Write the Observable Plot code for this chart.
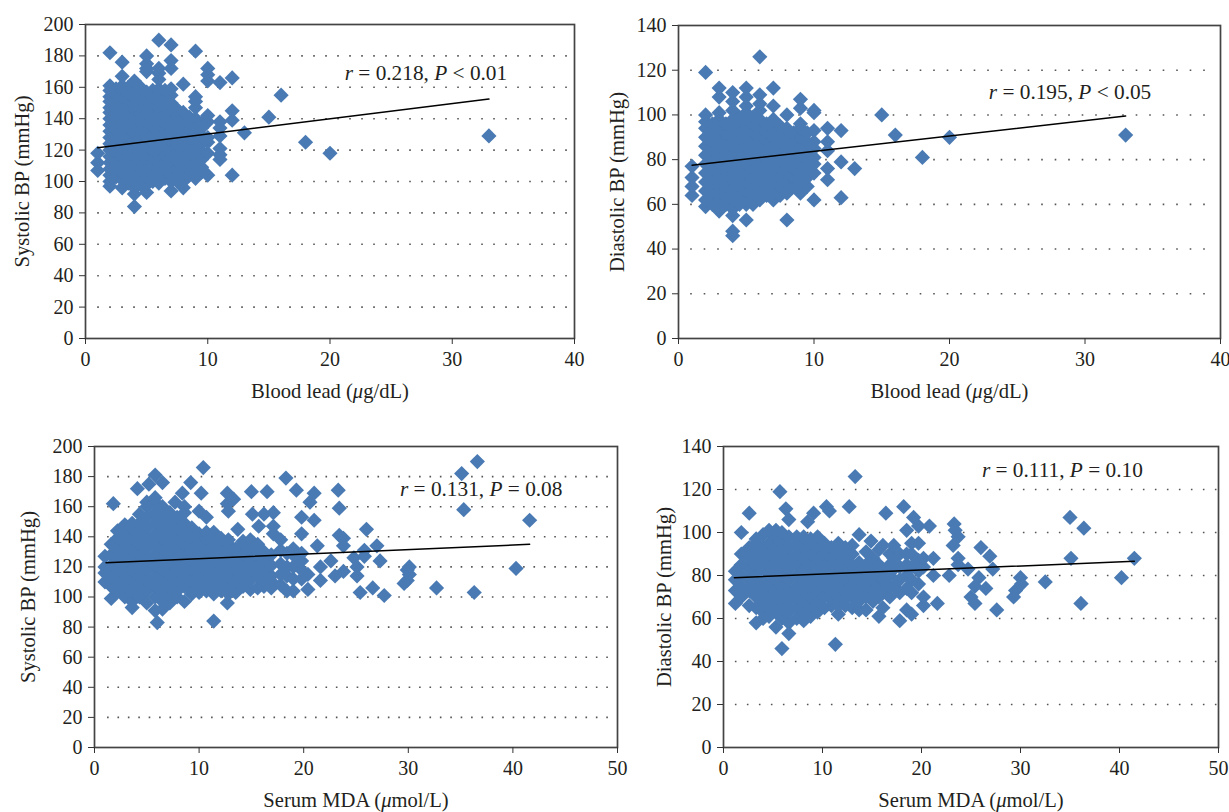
<!DOCTYPE html>
<html>
<head>
<meta charset="utf-8">
<script src="https://cdn.jsdelivr.net/npm/d3@7"></script>
<script src="https://cdn.jsdelivr.net/npm/@observablehq/plot@0.6"></script>
<style>
html,body{margin:0;padding:0;background:#fff;}
#chart{position:relative;width:1229px;height:812px;overflow:hidden;}
#chart svg{position:absolute;background:transparent;overflow:visible;}
</style>
</head>
<body>
<div id="chart"></div>
<script>
// Values: each row is [x, [y, y, ...]]
const leadSystolic = [
 [1,[107,112,118]],
 [2,[97,100,104,108,112,116,120,124,128,132,136,140,144,147,151,154,158,161,182]],
 [2.5,[103,108,113,118,123,128,133,138,143,147,151,155,159]],
 [3,[96,101,106,111,116,121,126,131,136,141,146,150,154,158,161,167,176]],
 [3.5,[99,104,109,114,119,124,129,134,139,144,148,152,156,160]],
 [4,[84,92,96,101,106,111,116,121,126,131,136,141,146,149,153,158,161,164]],
 [4.5,[98,103,108,113,118,123,128,133,138,143,148,152,156,160]],
 [5,[93,98,103,108,113,118,123,128,133,138,143,147,152,157,170,172,175,180]],
 [5.5,[100,105,110,115,120,125,130,135,140,145,150,154,158]],
 [6,[99,103,107,112,117,122,127,132,137,142,147,151,155,159,165,169,172,190]],
 [6.5,[102,107,112,117,122,127,132,137,142,147,150,154,158]],
 [7,[94,100,105,110,115,120,125,130,135,140,145,150,155,159,172,177,187]],
 [7.5,[100,103,108,113,118,123,128,133,138,142,146]],
 [8,[96,100,105,110,115,120,125,130,135,140,144,162]],
 [8.5,[104,108,113,118,123,128,133,138,141]],
 [9,[102,106,111,116,121,126,131,136,140,147,151,154,183]],
 [9.5,[106,109,114,119,124,129,134,137]],
 [10,[104,118,125,128,138,142,164,168,172]],
 [11,[114,117,121,129,134,138,163]],
 [12,[104,139,145,166]],
 [13,[131]],[15,[141]],[16,[155]],[18,[125]],[20,[118]],[33,[129]]
];
const leadDiastolic = [
 [1,[64,68,72,77]],
 [2,[59,62,66,70,74,78,82,86,90,94,97,100,119]],
 [2.5,[60,64,68,72,76,80,84,88,92,96]],
 [3,[57,62,66,70,74,78,82,86,90,94,98,101,108,112]],
 [3.5,[60,64,68,72,76,80,84,88,92,96]],
 [4,[46,48,55,58,62,66,70,74,78,82,86,90,94,98,102,106,110]],
 [4.5,[60,64,68,72,76,80,84,88,92,96,99]],
 [5,[53,60,62,66,70,74,78,82,86,90,94,98,101,104,108,112]],
 [5.5,[60,64,68,72,76,80,84,88,92,96,99]],
 [6,[62,66,70,74,78,82,86,90,94,98,102,105,109,126]],
 [6.5,[64,68,72,76,80,84,88,92,96]],
 [7,[62,66,70,74,78,82,86,90,94,98,104,112]],
 [7.5,[64,68,72,76,80,84,88,92,95]],
 [8,[53,65,66,70,74,78,82,86,90,94,100]],
 [8.5,[68,72,76,80,84,88,92]],
 [9,[65,70,74,78,82,86,90,94,96,103,107]],
 [9.5,[68,72,76,80,84,88,92]],
 [10,[62,74,78,81,85,88,93,101,102]],
 [11,[71,76,84,88,94]],
 [12,[63,79,93]],
 [13,[76]],[15,[100]],[16,[91]],[18,[81]],[20,[90]],[33,[91]]
];
const mdaSystolic = [
 [1.0,[110,116,120,127]],
 [1.6,[99,107,114,121,128,135]],
 [1.8,[162]],
 [2.2,[104,111,118,125,132,139,144]],
 [2.9,[100,107,114,121,128,135,142,148]],
 [3.6,[93,97,104,111,118,125,132,139,146,149]],
 [4.1,[172]],
 [4.3,[100,107,114,121,128,135,142,149,155]],
 [5.0,[96,104,111,118,125,132,139,146,153,160,163]],
 [5.2,[175]],
 [5.8,[91,100,107,114,121,128,135,142,149,156,163,166,181]],
 [6.0,[83]],
 [6.5,[92,97,104,111,118,125,132,139,146,153,160,176]],
 [7.2,[96,100,107,114,121,128,135,142,149,156]],
 [7.7,[163]],
 [7.9,[100,104,111,118,125,132,139,146,153]],
 [8.4,[169]],
 [8.6,[97,107,114,121,128,135,142,149,156,160]],
 [9.2,[176]],
 [9.3,[102,104,111,118,125,132,139,146]],
 [10.0,[103,107,114,121,128,135,142,157]],
 [10.2,[169]],
 [10.4,[186]],
 [10.7,[104,111,118,125,132,139,143,153]],
 [11.4,[84,102,107,114,121,128,135,140,143]],
 [12.1,[104,111,118,125,132,139]],
 [12.7,[96,162,169]],
 [12.8,[102,107,114,121,128,135,138,157]],
 [13.3,[165]],
 [13.5,[103,111,118,125,132]],
 [13.7,[145]],
 [14.2,[107,114,121,128,135,137]],
 [14.9,[105,111,118,125,132,138]],
 [15.0,[170]],
 [15.1,[155]],
 [15.6,[106,114,121,128,135]],
 [15.7,[147]],
 [16.2,[107,111,118,125,130,155]],
 [16.5,[170]],
 [16.9,[106,114,121,128]],
 [17.1,[109,142,147,156]],
 [17.8,[108,115,122,131,138]],
 [18.3,[179]],
 [18.4,[104,114,120,129]],
 [19.0,[104,112,120,128,132]],
 [19.3,[171]],
 [19.8,[112,118,124,129,142,153]],
 [20.4,[105,115]],
 [20.6,[163]],
 [21,[151,169]],
 [21.3,[134]],
 [21.6,[111,120]],
 [22.6,[124]],
 [23,[114]],
 [23.3,[171]],
 [23.4,[141,159]],
 [23.8,[117,134,139]],
 [24.8,[126]],
 [25.1,[114,120]],
 [25.4,[103]],
 [25.8,[127,131]],
 [26,[145]],
 [26.6,[106]],
 [27,[134]],
 [27.3,[124]],
 [27.7,[101]],
 [29.6,[109]],
 [29.9,[111,118]],
 [30.1,[115,120]],
 [32.7,[106]],
 [35.1,[182]],
 [35.3,[158]],
 [36.3,[103]],
 [36.6,[190]],
 [40.3,[119]],
 [41.6,[151]]
];
const mdaDiastolic = [
 [1.2,[67,73,78,82]],
 [1.8,[70,75,80,85,90,100]],
 [2.6,[66,73,78,83,88,93,109]],
 [3.3,[58,65,70,75,80,85,90,95,97]],
 [4.0,[60,63,68,73,78,83,88,93,99]],
 [4.6,[61,65,70,75,80,85,90,95,101]],
 [5.3,[56,63,68,73,78,83,88,93,98,101]],
 [5.7,[119]],
 [5.9,[46,60,65,70,75,80,85,90,95,100]],
 [6.3,[111]],
 [6.6,[53,58,63,68,73,78,83,88,93,98,106]],
 [7.4,[60,65,70,75,80,85,90,95,98]],
 [8.1,[59,63,68,73,78,83,88,93,98]],
 [8.5,[105]],
 [8.8,[61,65,70,75,80,85,90,95,97]],
 [9.1,[109]],
 [9.5,[63,68,73,78,83,88,93,98]],
 [10.2,[65,70,75,80,85,90,95]],
 [10.4,[112]],
 [10.7,[110]],
 [10.9,[66,69,73,78,83,88,93]],
 [11.3,[48]],
 [11.6,[62,66,70,75,80,85,90,95]],
 [12.3,[66,69,73,78,83,88,93]],
 [12.7,[112]],
 [13.0,[65,70,75,80,85,90,94]],
 [13.3,[126]],
 [13.7,[64,68,73,78,83,86,99]],
 [14.4,[64,70,75,80,85,91]],
 [14.9,[96]],
 [15.1,[68,73,78,83,88]],
 [15.7,[61,70,75,80,85,92]],
 [16.1,[65,73,78,83,94]],
 [16.4,[109]],
 [16.8,[70,75,80,85,90]],
 [17.2,[75,83,88,94]],
 [17.8,[59,72,78,84,90]],
 [18.2,[112]],
 [18.5,[64,74,80,85,90,101]],
 [19.0,[62,72,78,84,90,95]],
 [19.2,[107]],
 [19.7,[76,82,87,95,103]],
 [20.2,[66,70,84,88]],
 [20.8,[103]],
 [21.2,[80,88]],
 [21.6,[67]],
 [22.8,[80]],
 [23.2,[94]],
 [23.3,[104]],
 [23.4,[101]],
 [23.7,[85,88,98]],
 [24.7,[83]],
 [25,[70]],
 [25.4,[67,75]],
 [25.8,[79]],
 [26,[93]],
 [26.5,[74]],
 [26.9,[89]],
 [27.2,[83]],
 [27.6,[64]],
 [29.3,[70]],
 [29.5,[73]],
 [30,[79]],
 [30.1,[76]],
 [32.5,[77]],
 [35,[107]],
 [35.1,[88]],
 [36.1,[67]],
 [36.4,[102]],
 [40.2,[79]],
 [41.5,[88]]
];
const leadSystolicFit = [[1,121.5],[33,152.5]];
const leadDiastolicFit = [[1,77.5],[33,99.5]];
const mdaSystolicFit = [[1.1,122.7],[41.6,135]];
const mdaDiastolicFit = [[1.1,79],[41.5,86.6]];

const systolicTicks = [0,20,40,60,80,100,120,140,160,180,200];
const diastolicTicks = [0,20,40,60,80,100,120,140];
const leadTicks = [0,10,20,30,40];
const mdaTicks = [0,10,20,30,40,50];

const serif = "'Liberation Serif', serif";
const ink = "#231f20";
const blue = "#4a7ab3";

function panel(o) {
  const pts = o.rows.flatMap(([x, ys]) => ys.map(y => [x, y]));
  const inner = o.ticks.slice(1, -1);
  const svg = Plot.plot({
    width: o.w, height: o.h,
    marginLeft: o.ml, marginRight: o.w - o.ml - o.pw,
    marginTop: o.mt, marginBottom: o.h - o.mt - o.ph,
    x: {domain: [o.xTicks[0], o.xTicks[o.xTicks.length - 1]]},
    y: {domain: [o.ticks[0], o.ticks[o.ticks.length - 1]]},
    style: {fontFamily: serif, fontSize: "20px", color: ink, background: "transparent"},
    marks: [
      Plot.ruleY(inner, {x1: o.gridFrom, x2: o.gridTo, stroke: "#555", strokeWidth: 1.6, strokeDasharray: `1.6 ${o.gap - 1.6}`}),
      Plot.dot(pts, {x: d => d[0], y: d => d[1], symbol: "diamond2", r: 6.85, fill: blue, stroke: "none"}),
      Plot.line(o.fit, {x: d => d[0], y: d => d[1], stroke: "#000", strokeWidth: 1.5}),
      Plot.frame({stroke: "#444", strokeWidth: 1.7}),
      Plot.axisX({ticks: o.xTicks, tickSize: 6, tickPadding: 7, label: null, stroke: "#333", fontSize: 20}),
      Plot.axisY({ticks: o.ticks, tickSize: 6, tickPadding: 6, label: null, stroke: "#333", fontSize: 20}),
      Plot.text([o.note], {x: o.noteX, y: o.noteY, textAnchor: "start", fontSize: 21.3}),
      Plot.text([o.xLabel], {frameAnchor: "bottom", lineAnchor: "middle", dy: o.xLabelDy, fontSize: 20.6}),
      Plot.text([o.yLabel], {frameAnchor: "left", textAnchor: "middle", lineAnchor: "middle", rotate: -90, dx: o.yLabelDx, fontSize: 20.6})
    ]
  });
  svg.style.left = o.left + "px";
  svg.style.top = o.top + "px";
  svg.querySelectorAll("text").forEach(t => {
    if (t.children.length > 1 || t.textContent.length < 6) return;
    const el = t.querySelector("tspan") || t;
    const parts = el.textContent.split(/(\b[rP]\b|μ)/);
    if (parts.length < 2) return;
    el.textContent = "";
    parts.forEach(p => {
      const s = document.createElementNS("http://www.w3.org/2000/svg", "tspan");
      s.textContent = p;
      if (/^([rP]|μ)$/.test(p)) s.setAttribute("font-style", "italic");
      el.appendChild(s);
    });
  });
  document.getElementById("chart").appendChild(svg);
}

panel({rows: leadSystolic, fit: leadSystolicFit, ticks: systolicTicks, xTicks: leadTicks,
  left: 0, top: 0, w: 600, h: 410, ml: 85, mt: 24, pw: 489, ph: 314,
  gridFrom: 1, gridTo: 39.7, gap: 12,
  note: "r = 0.218, P < 0.01", noteX: 21.2, noteY: 169,
  xLabel: "Blood lead (μg/dL)", xLabelDy: 53, yLabel: "Systolic BP (mmHg)", yLabelDx: -63});
panel({rows: leadDiastolic, fit: leadDiastolicFit, ticks: diastolicTicks, xTicks: leadTicks,
  left: 600, top: 0, w: 629, h: 410, ml: 78, mt: 25, pw: 542, ph: 313,
  gridFrom: 0.9, gridTo: 39.6, gap: 13.5,
  note: "r = 0.195, P < 0.05", noteX: 22.9, noteY: 110,
  xLabel: "Blood lead (μg/dL)", xLabelDy: 53, yLabel: "Diastolic BP (mmHg)", yLabelDx: -61});
panel({rows: mdaSystolic, fit: mdaSystolicFit, ticks: systolicTicks, xTicks: mdaTicks,
  left: 0, top: 412, w: 640, h: 400, ml: 94, mt: 34, pw: 523, ph: 301,
  gridFrom: 1.25, gridTo: 49.6, gap: 10.4,
  note: "r = 0.131, P = 0.08", noteX: 29.2, noteY: 171.5,
  xLabel: "Serum MDA (μmol/L)", xLabelDy: 53, yLabel: "Systolic BP (mmHg)", yLabelDx: -66});
panel({rows: mdaDiastolic, fit: mdaDiastolicFit, ticks: diastolicTicks, xTicks: mdaTicks,
  left: 640, top: 412, w: 589, h: 400, ml: 83, mt: 34, pw: 495, ph: 301,
  gridFrom: 1.2, gridTo: 49.9, gap: 12,
  note: "r = 0.111, P = 0.10", noteX: 26.1, noteY: 129,
  xLabel: "Serum MDA (μmol/L)", xLabelDy: 53, yLabel: "Diastolic BP (mmHg)", yLabelDx: -59});
</script>
</body>
</html>
